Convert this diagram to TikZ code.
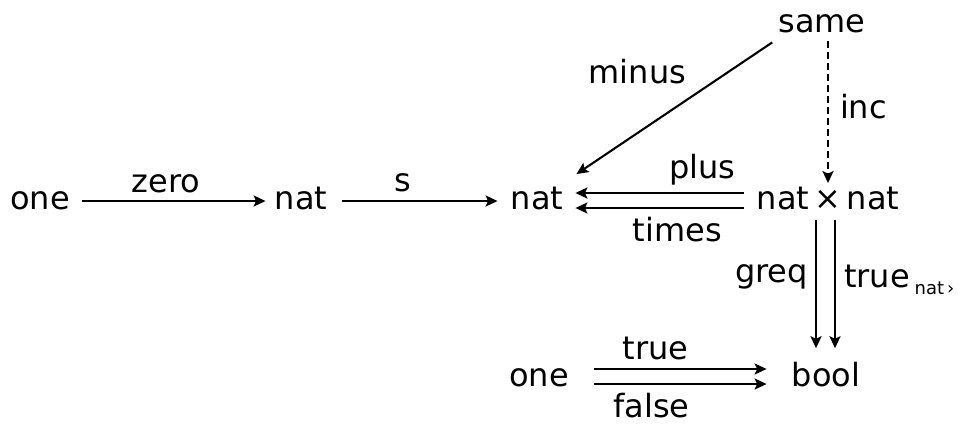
\documentclass[tikz,border=0pt]{standalone}
\usepackage{fontspec}
\setmainfont{DejaVu Sans}
\usetikzlibrary{arrows.meta}
\begin{document}
\fontsize{32}{38}\selectfont
\begin{tikzpicture}[x=1pt,y=-1pt,
  every node/.style={font=\fontsize{32}{38}\selectfont, inner sep=0pt, anchor=mid},
  obj/.style={},
  lab/.style={},
  arr/.style={line width=2.1pt,-{Stealth[length=12pt,width=11pt,inset=2.5pt]}},
  dasharr/.style={arr, dash pattern=on 7pt off 4pt}]
\useasboundingbox (0,0) rectangle (968,424);
% objects
\node[obj] (one1) at (40,201) {one};
\node[obj] (nat1) at (301,201) {nat};
\node[obj] (nat2) at (537,201) {nat};
\node[obj] (nn) at (828,201) {nat\,×\,nat};
\node[obj] (same) at (822,24) {same};
\node[obj] (bool) at (826,378) {bool};
\node[obj] (one2) at (539,378) {one};
% top row
\draw[arr, shorten <=12pt, shorten >=9pt] (one1.mid east) --
  node[lab, pos=0.47, yshift=17pt]{zero} (nat1.mid west);
\draw[arr, shorten <=15pt, shorten >=13pt] (nat1.mid east) --
  node[lab, pos=0.41, yshift=18pt]{s} (nat2.mid west);
\draw[arr, shorten <=13pt, shorten >=12pt] ([yshift=8pt]nn.mid west) --
  node[lab, pos=0.28, yshift=23pt]{plus} ([yshift=8pt]nat2.mid east);
\draw[arr, shorten <=13pt, shorten >=12pt] ([yshift=-7pt]nn.mid west) --
  node[lab, pos=0.41, yshift=-25pt]{times} ([yshift=-7pt]nat2.mid east);
% minus and inc
\coordinate (ms) at ([xshift=-6pt,yshift=-9pt]same.south west);
\coordinate (mt) at ([xshift=13pt,yshift=13pt]nat2.north east);
\draw[arr] (ms) -- node[lab, midway, xshift=-37pt, yshift=33pt]{minus} (mt);
\draw[dasharr, shorten <=8pt, shorten >=4pt] (nn.north |- same.south) --
  node[lab, midway, anchor=mid west, xshift=11pt]{inc} (nn.north);
% vertical arrows
\coordinate (g1) at ([xshift=-10pt]bool.north);
\coordinate (g2) at ([xshift=9pt]bool.north);
\draw[arr, shorten <=10pt, shorten >=14pt] (g1 |- nn.south) --
  node[lab, pos=0.42, anchor=mid east, xshift=-7pt]{greq} (g1);
\draw[arr, shorten <=10pt, shorten >=14pt] (g2 |- nn.south) --
  node[lab, pos=0.45, anchor=mid west, xshift=8pt]{true\hspace{5pt}\raisebox{-7pt}{\fontsize{18}{21}\selectfont nat\,›}} (g2);
% bottom row
\draw[arr, shorten <=25pt, shorten >=25pt] ([yshift=9pt]one2.mid east) --
  node[lab, pos=0.39, yshift=18pt]{true} ([yshift=9pt]bool.mid west);
\draw[arr, shorten <=25pt, shorten >=25pt] ([yshift=-6pt]one2.mid east) --
  node[lab, pos=0.37, yshift=-25pt]{false} ([yshift=-6pt]bool.mid west);
\end{tikzpicture}
\end{document}
